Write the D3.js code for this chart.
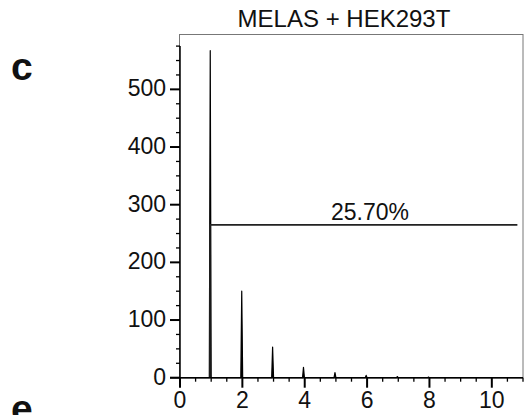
<!DOCTYPE html>
<html>
<head>
<meta charset="utf-8">
<script src="https://cdn.jsdelivr.net/npm/d3@7"></script>
<style>
  body { margin: 0; background: #fff; }
  text { font-family: "Liberation Sans", Arial, sans-serif; fill: #111; }
</style>
</head>
<body>
<svg id="chart" width="531" height="415"></svg>
<script>
// histogram spikes (copy number vs count)
var peakX = [0.97, 1.98, 2.97, 3.96, 4.97, 5.97, 6.97, 7.97];
var peakCount = [567, 150, 53, 18, 9, 4, 2, 1];
var xTicks = [0, 2, 4, 6, 8, 10];
var yTicks = [0, 100, 200, 300, 400, 500];
// gate marker
var gateStart = 0.96, gateEnd = 10.82, gateLevel = 265;
var gateLabel = "25.70%";
var title = "MELAS + HEK293T";

var svg = d3.select("#chart");

var x = d3.scaleLinear().domain([0, 11]).range([180, 523]);
var y = d3.scaleLinear().domain([0, 596]).range([377.7, 34]);

// frame
svg.append("rect")
    .attr("x", 179.5).attr("y", 34.5)
    .attr("width", 523 - 179.5).attr("height", 377.7 - 34.5)
    .attr("fill", "none").attr("stroke", "#777").attr("stroke-width", 1);

// spikes
var half = 0.03;
var pts = [[0, 0]];
peakX.forEach((px, i) => {
    pts.push([px - half, 0]);
    pts.push([px, peakCount[i]]);
    pts.push([px + half, 0]);
});
pts.push([11, 0]);

svg.append("path")
    .datum(pts)
    .attr("d", d3.line().x(d => x(d[0])).y(d => y(d[1])))
    .attr("fill", "#000").attr("stroke", "#000")
    .attr("stroke-width", 1.2).attr("stroke-linejoin", "round");

// gate
svg.append("path")
    .attr("d", d3.line()([[x(gateStart), y(0)], [x(gateStart), y(gateLevel)], [x(gateEnd), y(gateLevel)]]))
    .attr("fill", "none").attr("stroke", "#222").attr("stroke-width", 1.6);

svg.append("text")
    .attr("x", 370).attr("y", y(gateLevel) - 5)
    .attr("text-anchor", "middle")
    .attr("font-size", 23)
    .attr("fill", "#222")
    .text(gateLabel);

// y axis
var gy = svg.append("g").attr("transform", "translate(180,0)");
gy.append("line").attr("x1", 0).attr("x2", 0)
    .attr("y1", y(0)).attr("y2", y(575)).attr("stroke", "#000").attr("stroke-width", 1.5);
gy.selectAll(".tk").data(d3.range(0, 576, 25)).join("line")
    .attr("x1", 0).attr("x2", d => d % 100 === 0 ? -10 : -4)
    .attr("y1", d => y(d)).attr("y2", d => y(d))
    .attr("stroke", "#000").attr("stroke-width", d => d % 100 === 0 ? 2 : 1.3);
gy.selectAll(".lb").data(yTicks).join("text")
    .attr("x", -14).attr("y", d => y(d) - 1)
    .attr("dy", "0.35em")
    .attr("text-anchor", "end")
    .attr("font-size", 23)
    .text(d => d);

// x axis
var gx = svg.append("g").attr("transform", "translate(0," + y(0) + ")");
gx.append("line").attr("x1", x(0) - 10).attr("x2", x(11))
    .attr("stroke", "#000").attr("stroke-width", 1.5);
gx.selectAll(".tk").data(d3.range(0, 11.01, 0.5)).join("line")
    .attr("x1", d => x(d)).attr("x2", d => x(d))
    .attr("y1", 0).attr("y2", d => d % 2 === 0 ? 10 : 4)
    .attr("stroke", "#000").attr("stroke-width", d => d % 2 === 0 ? 2 : 1.3);
gx.selectAll(".lb").data(xTicks).join("text")
    .attr("x", d => x(d)).attr("y", 30.5)
    .attr("text-anchor", "middle")
    .attr("font-size", 23)
    .text(d => d);

// title
svg.append("text")
    .attr("x", 344).attr("y", 27)
    .attr("text-anchor", "middle")
    .attr("font-size", 24)
    .text(title);

// panel letters
svg.append("text").attr("x", 11).attr("y", 80)
    .attr("font-size", 39).attr("font-weight", "bold").text("c");
svg.append("text").attr("x", 11).attr("y", 422)
    .attr("font-size", 39).attr("font-weight", "bold").text("e");
</script>
</body>
</html>
